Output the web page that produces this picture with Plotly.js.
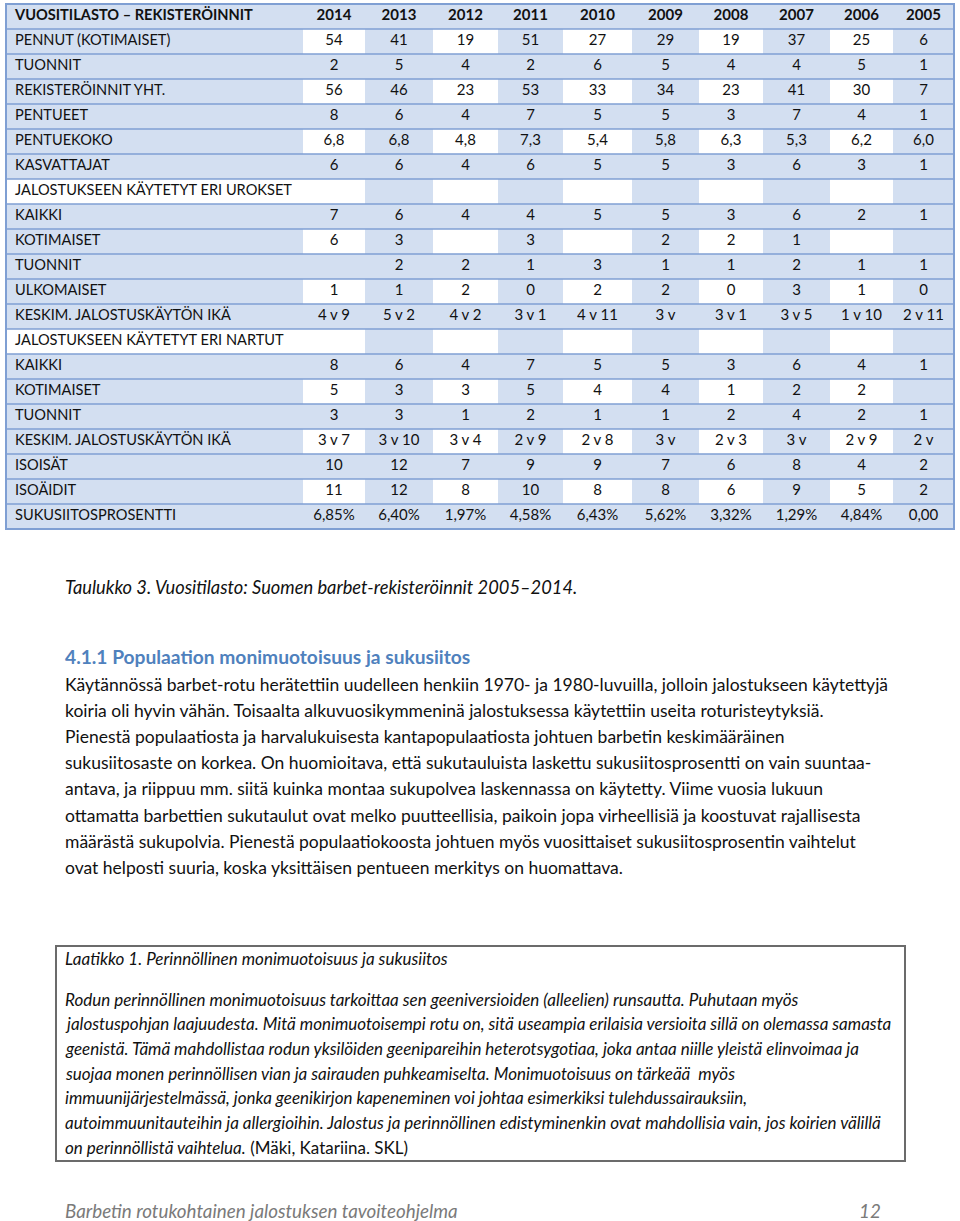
<!DOCTYPE html>
<html>
<head>
<meta charset="utf-8">
<script src="https://cdn.plot.ly/plotly-3.0.1.min.js"></script>
<style>
  html, body { margin: 0; padding: 0; background: #fff; }
  #page { width: 960px; height: 1221px; }
</style>
</head>
<body>
<div id="page"></div>
<script>
// table data
var headerLabel = 'VUOSITILASTO – REKISTERÖINNIT';
var years = ['2014', '2013', '2012', '2011', '2010', '2009', '2008', '2007', '2006', '2005'];

var rowLabels = [
    'PENNUT (KOTIMAISET)', 'TUONNIT', 'REKISTERÖINNIT YHT.', 'PENTUEET', 'PENTUEKOKO',
    'KASVATTAJAT', 'JALOSTUKSEEN KÄYTETYT ERI UROKSET', 'KAIKKI', 'KOTIMAISET', 'TUONNIT',
    'ULKOMAISET', 'KESKIM. JALOSTUSKÄYTÖN IKÄ', 'JALOSTUKSEEN KÄYTETYT ERI NARTUT', 'KAIKKI',
    'KOTIMAISET', 'TUONNIT', 'KESKIM. JALOSTUSKÄYTÖN IKÄ', 'ISOISÄT', 'ISOÄIDIT', 'SUKUSIITOSPROSENTTI'
];
var sectionRows = [6, 12];

var pennut = [54, 41, 19, 51, 27, 29, 19, 37, 25, 6];
var tuonnit = [2, 5, 4, 2, 6, 5, 4, 4, 5, 1];
var rekisteroinnit = [56, 46, 23, 53, 33, 34, 23, 41, 30, 7];
var pentueet = [8, 6, 4, 7, 5, 5, 3, 7, 4, 1];
var pentuekoko = ['6,8', '6,8', '4,8', '7,3', '5,4', '5,8', '6,3', '5,3', '6,2', '6,0'];
var kasvattajat = [6, 6, 4, 6, 5, 5, 3, 6, 3, 1];
var urosKaikki = [7, 6, 4, 4, 5, 5, 3, 6, 2, 1];
var urosKotimaiset = [6, 3, '', 3, '', 2, 2, 1, '', ''];
var urosTuonnit = ['', 2, 2, 1, 3, 1, 1, 2, 1, 1];
var urosUlkomaiset = [1, 1, 2, 0, 2, 2, 0, 3, 1, 0];
var urosIka = ['4 v 9', '5 v 2', '4 v 2', '3 v 1', '4 v 11', '3 v', '3 v 1', '3 v 5', '1 v 10', '2 v 11'];
var nartutKaikki = [8, 6, 4, 7, 5, 5, 3, 6, 4, 1];
var nartutKotimaiset = [5, 3, 3, 5, 4, 4, 1, 2, 2, ''];
var nartutTuonnit = [3, 3, 1, 2, 1, 1, 2, 4, 2, 1];
var nartutIka = ['3 v 7', '3 v 10', '3 v 4', '2 v 9', '2 v 8', '3 v', '2 v 3', '3 v', '2 v 9', '2 v'];
var isoisat = [10, 12, 7, 9, 9, 7, 6, 8, 4, 2];
var isoaidit = [11, 12, 8, 10, 8, 8, 6, 9, 5, 2];
var sukusiitos = ['6,85%', '6,40%', '1,97%', '4,58%', '6,43%', '5,62%', '3,32%', '1,29%', '4,84%', '0,00'];
var blank = ['', '', '', '', '', '', '', '', '', ''];

var rowValues = [
    pennut, tuonnit, rekisteroinnit, pentueet, pentuekoko, kasvattajat, blank,
    urosKaikki, urosKotimaiset, urosTuonnit, urosUlkomaiset, urosIka, blank,
    nartutKaikki, nartutKotimaiset, nartutTuonnit, nartutIka, isoisat, isoaidit, sukusiitos
];

// page text
var caption = 'Taulukko 3. Vuositilasto: Suomen barbet-rekisteröinnit 2005–2014.';
var heading = '4.1.1 Populaation monimuotoisuus ja sukusiitos';
var bodyLines = [
    'Käytännössä barbet-rotu herätettiin uudelleen henkiin 1970- ja 1980-luvuilla, jolloin jalostukseen käytettyjä',
    'koiria oli hyvin vähän. Toisaalta alkuvuosikymmeninä jalostuksessa käytettiin useita roturisteytyksiä.',
    'Pienestä populaatiosta ja harvalukuisesta kantapopulaatiosta johtuen barbetin keskimääräinen',
    'sukusiitosaste on korkea. On huomioitava, että sukutauluista laskettu sukusiitosprosentti on vain suuntaa-',
    'antava, ja riippuu mm. siitä kuinka montaa sukupolvea laskennassa on käytetty. Viime vuosia lukuun',
    'ottamatta barbettien sukutaulut ovat melko puutteellisia, paikoin jopa virheellisiä ja koostuvat rajallisesta',
    'määrästä sukupolvia. Pienestä populaatiokoosta johtuen myös vuosittaiset sukusiitosprosentin vaihtelut',
    'ovat helposti suuria, koska yksittäisen pentueen merkitys on huomattava.'
];
var boxTitle = 'Laatikko 1. Perinnöllinen monimuotoisuus ja sukusiitos';
var boxLines = [
    'Rodun perinnöllinen monimuotoisuus tarkoittaa sen geeniversioiden (alleelien) runsautta. Puhutaan myös',
    'jalostuspohjan laajuudesta. Mitä monimuotoisempi rotu on, sitä useampia erilaisia versioita sillä on olemassa samasta',
    'geenistä. Tämä mahdollistaa rodun yksilöiden geenipareihin heterotsygotiaa, joka antaa niille yleistä elinvoimaa ja',
    'suojaa monen perinnöllisen vian ja sairauden puhkeamiselta. Monimuotoisuus on tärkeää  myös',
    'immuunijärjestelmässä, jonka geenikirjon kapeneminen voi johtaa esimerkiksi tulehdussairauksiin,',
    'autoimmuunitauteihin ja allergioihin. Jalostus ja perinnöllinen edistyminenkin ovat mahdollisia vain, jos koirien välillä',
    'on perinnöllistä vaihtelua.'
];
var boxSource = ' (Mäki, Katariina. SKL)';
var footerText = 'Barbetin rotukohtainen jalostuksen tavoiteohjelma';
var pageNumber = '12';

// geometry
var colEdges = [6, 303, 365, 433, 498, 563, 632, 699, 763, 830, 893, 954];
var tableTop = 4, rowH = 25;
var nRows = rowLabels.length + 1;
var rowEdges = [];
for (var r = 0; r <= nRows; r++) rowEdges.push(tableTop + r * rowH);
var colCenters = [];
for (var c = 1; c < colEdges.length - 1; c++) colCenters.push((colEdges[c] + colEdges[c + 1]) / 2);
var rowCenters = [];
for (var r = 0; r < nRows; r++) rowCenters.push(tableTop + (r + 0.5) * rowH);

var BLUE_FILL = '#d3dff1';
var BLUE_LINE = '#7f9fd3';
var FONT = 'Lato, "Liberation Sans", sans-serif';

// fill matrix: 1 = blue, 0 = white
var z = [];
for (var r = 0; r < nRows; r++) {
    var row = [];
    for (var c = 0; c < colEdges.length - 1; c++) {
        var v = 1;
        var d = r - 1;
        if (d >= 0 && d % 2 === 0) {
            if (c === 0) v = sectionRows.indexOf(d) >= 0 ? 0 : 1;
            else v = (c - 1) % 2 === 0 ? 0 : 1;
        }
        row.push(v);
    }
    z.push(row);
}

var cellTrace = {
    type: 'heatmap',
    x: colEdges,
    y: rowEdges,
    z: z,
    zmin: 0, zmax: 1,
    colorscale: [[0, '#ffffff'], [1, BLUE_FILL]],
    showscale: false,
    hoverinfo: 'skip'
};

// text traces
var labelY = [rowCenters[0]], labelText = ['<b>' + headerLabel + '</b>'];
for (var i = 0; i < rowLabels.length; i++) {
    labelY.push(rowCenters[i + 1]);
    labelText.push(rowLabels[i]);
}
var labelTrace = {
    type: 'scatter', mode: 'text',
    x: labelY.map(function () { return colEdges[0] + 9; }),
    y: labelY, text: labelText,
    textposition: 'middle right',
    textfont: { family: FONT, size: 14.6, color: '#111' },
    cliponaxis: false, hoverinfo: 'skip', showlegend: false
};

var valX = [], valY = [], valText = [];
for (var c = 0; c < years.length; c++) {
    valX.push(colCenters[c]); valY.push(rowCenters[0]); valText.push('<b>' + years[c] + '</b>');
    for (var r = 0; r < rowValues.length; r++) {
        valX.push(colCenters[c]);
        valY.push(rowCenters[r + 1]);
        valText.push(String(rowValues[r][c]));
    }
}
var valueTrace = {
    type: 'scatter', mode: 'text',
    x: valX, y: valY, text: valText,
    textposition: 'middle center',
    textfont: { family: FONT, size: 15, color: '#111' },
    cliponaxis: false, hoverinfo: 'skip', showlegend: false
};

// row lines and borders
var shapes = [];
for (var r = 1; r < nRows; r++) {
    shapes.push({
        type: 'line', xref: 'x', yref: 'y',
        x0: colEdges[0], x1: colEdges[colEdges.length - 1], y0: rowEdges[r], y1: rowEdges[r],
        line: { color: BLUE_LINE, width: 1.6 }
    });
}
shapes.push({
    type: 'rect', xref: 'x', yref: 'y',
    x0: colEdges[0], x1: colEdges[colEdges.length - 1], y0: rowEdges[0], y1: rowEdges[nRows],
    line: { color: BLUE_LINE, width: 2 }
});
shapes.push({
    type: 'rect', xref: 'x', yref: 'y',
    x0: 56, x1: 905, y0: 946, y1: 1161,
    line: { color: '#6b6b6b', width: 2 }
});

// text annotations
var annotations = [];
function addText(txt, x, y, size, color, extra) {
    var a = {
        xref: 'x', yref: 'y', x: x, y: y, text: txt, showarrow: false,
        xanchor: 'left', yanchor: 'middle',
        font: { family: FONT, size: size, color: color }
    };
    if (extra) for (var k in extra) a[k] = extra[k];
    annotations.push(a);
}
addText('<i>' + caption + '</i>', 63, 587, 18.3, '#111');
addText('<b>' + heading + '</b>', 63, 656, 19.2, '#4f81bd');
for (var i = 0; i < bodyLines.length; i++) {
    addText(bodyLines[i], 63, 684 + i * 26.2, 17.5, '#111');
}
addText('<i>' + boxTitle + '</i>', 63, 958, 17, '#111');
for (var i = 0; i < boxLines.length; i++) {
    var t = '<i>' + boxLines[i] + '</i>';
    if (i === boxLines.length - 1) t += boxSource;
    addText(t, 63, 999 + i * 24.7, 17, '#111');
}
addText('<i>' + footerText + '</i>', 63, 1210, 18.8, '#7a7a7a');
addText('<i>' + pageNumber + '</i>', 883, 1210, 18.8, '#7a7a7a', { xanchor: 'right' });

var layout = {
    width: 960, height: 1221,
    margin: { l: 0, r: 0, t: 0, b: 0 },
    paper_bgcolor: '#ffffff', plot_bgcolor: '#ffffff',
    xaxis: { range: [0, 960], visible: false, fixedrange: true },
    yaxis: { range: [1221, 0], visible: false, fixedrange: true },
    showlegend: false,
    shapes: shapes,
    annotations: annotations
};

Plotly.newPlot('page', [cellTrace, labelTrace, valueTrace], layout, { staticPlot: true });
</script>
</body>
</html>
